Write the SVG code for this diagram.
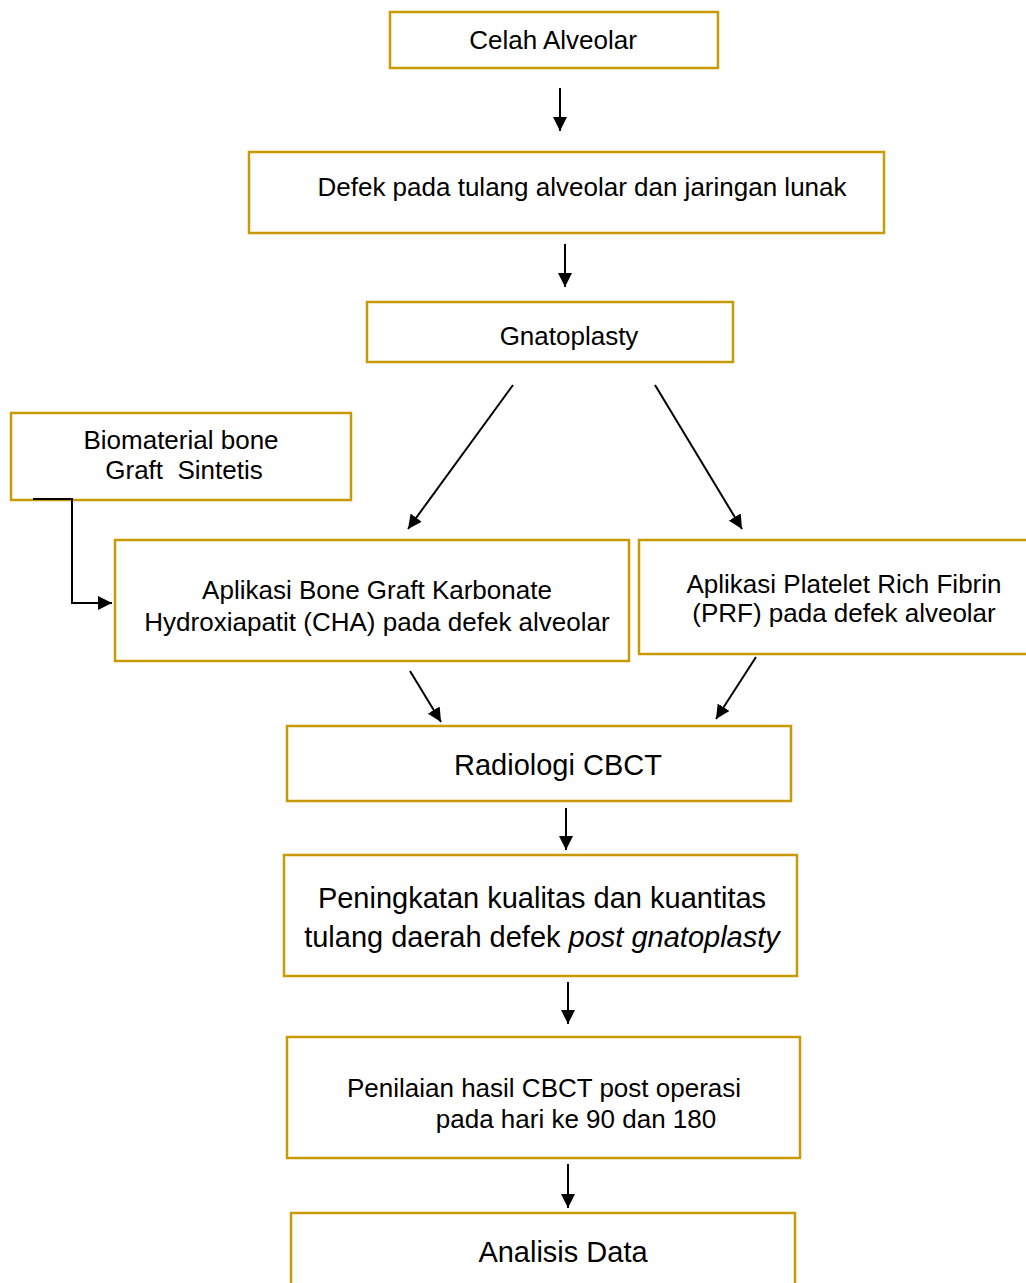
<svg xmlns="http://www.w3.org/2000/svg" width="1026" height="1283" viewBox="0 0 1026 1283">
<style>
.box{fill:#fff;stroke:#C89B06;stroke-width:2.5}
.t{font-family:"Liberation Sans",Arial,sans-serif;font-size:26px;fill:#000;text-anchor:middle}
.b{font-size:29px}
.c{fill:none;stroke:#000;stroke-width:2}
</style>
<defs>
<marker id="ah" viewBox="0 0 10 10" refX="10" refY="5" markerWidth="7" markerHeight="7" markerUnits="strokeWidth" orient="auto"><path d="M0,0 L10,5 L0,10 z" fill="#000"/></marker>
</defs>
<rect width="1026" height="1283" fill="#fff"/>
<g id="n1"><rect class="box" x="390" y="12" width="328" height="56"/><text class="t" x="553" y="49">Celah Alveolar</text></g>
<g id="n2"><rect class="box" x="249" y="152" width="635" height="81"/><text class="t" x="582" y="196">Defek pada tulang alveolar dan jaringan lunak</text></g>
<g id="n3"><rect class="box" x="367" y="302" width="366" height="60"/><text class="t" x="569" y="345">Gnatoplasty</text></g>
<g id="n4"><rect class="box" x="11" y="413" width="340" height="87"/><text class="t" x="181" y="449">Biomaterial bone</text><text class="t" x="184" y="479" xml:space="preserve">Graft  Sintetis</text></g>
<g id="n5"><rect class="box" x="115" y="540" width="514" height="121"/><text class="t" x="377" y="599">Aplikasi Bone Graft Karbonate</text><text class="t" x="377" y="631">Hydroxiapatit (CHA) pada defek alveolar</text></g>
<g id="n6"><rect class="box" x="639" y="540" width="392" height="114"/><text class="t" x="844" y="593">Aplikasi Platelet Rich Fibrin</text><text class="t" x="844" y="622">(PRF) pada defek alveolar</text></g>
<g id="n7"><rect class="box" x="287" y="726" width="504" height="75"/><text class="t b" x="558" y="775">Radiologi CBCT</text></g>
<g id="n8"><rect class="box" x="284" y="855" width="513" height="121"/><text class="t b" x="542" y="908">Peningkatan kualitas dan kuantitas</text><text class="t b" x="542" y="947">tulang daerah defek <tspan font-style="italic">post gnatoplasty</tspan></text></g>
<g id="n9"><rect class="box" x="287" y="1037" width="513" height="121"/><text class="t" x="544" y="1097">Penilaian hasil CBCT post operasi</text><text class="t" x="576" y="1128">pada hari ke 90 dan 180</text></g>
<g id="n10"><rect class="box" x="291" y="1213" width="504" height="80"/><text class="t b" x="563" y="1262">Analisis Data</text></g>
<g id="connectors">
<line class="c" x1="560" y1="88" x2="560" y2="131" marker-end="url(#ah)"/>
<line class="c" x1="565" y1="244" x2="565" y2="287" marker-end="url(#ah)"/>
<line class="c" x1="513" y1="385" x2="408" y2="529" marker-end="url(#ah)"/>
<line class="c" x1="655" y1="385" x2="742" y2="529" marker-end="url(#ah)"/>
<polyline class="c" points="33,499 72,499 72,603 112,603" marker-end="url(#ah)"/>
<line class="c" x1="410" y1="671" x2="441" y2="722" marker-end="url(#ah)"/>
<line class="c" x1="756" y1="657" x2="716" y2="719" marker-end="url(#ah)"/>
<line class="c" x1="566" y1="808" x2="566" y2="850" marker-end="url(#ah)"/>
<line class="c" x1="568" y1="982" x2="568" y2="1024" marker-end="url(#ah)"/>
<line class="c" x1="568" y1="1164" x2="568" y2="1208" marker-end="url(#ah)"/>
</g>
</svg>
